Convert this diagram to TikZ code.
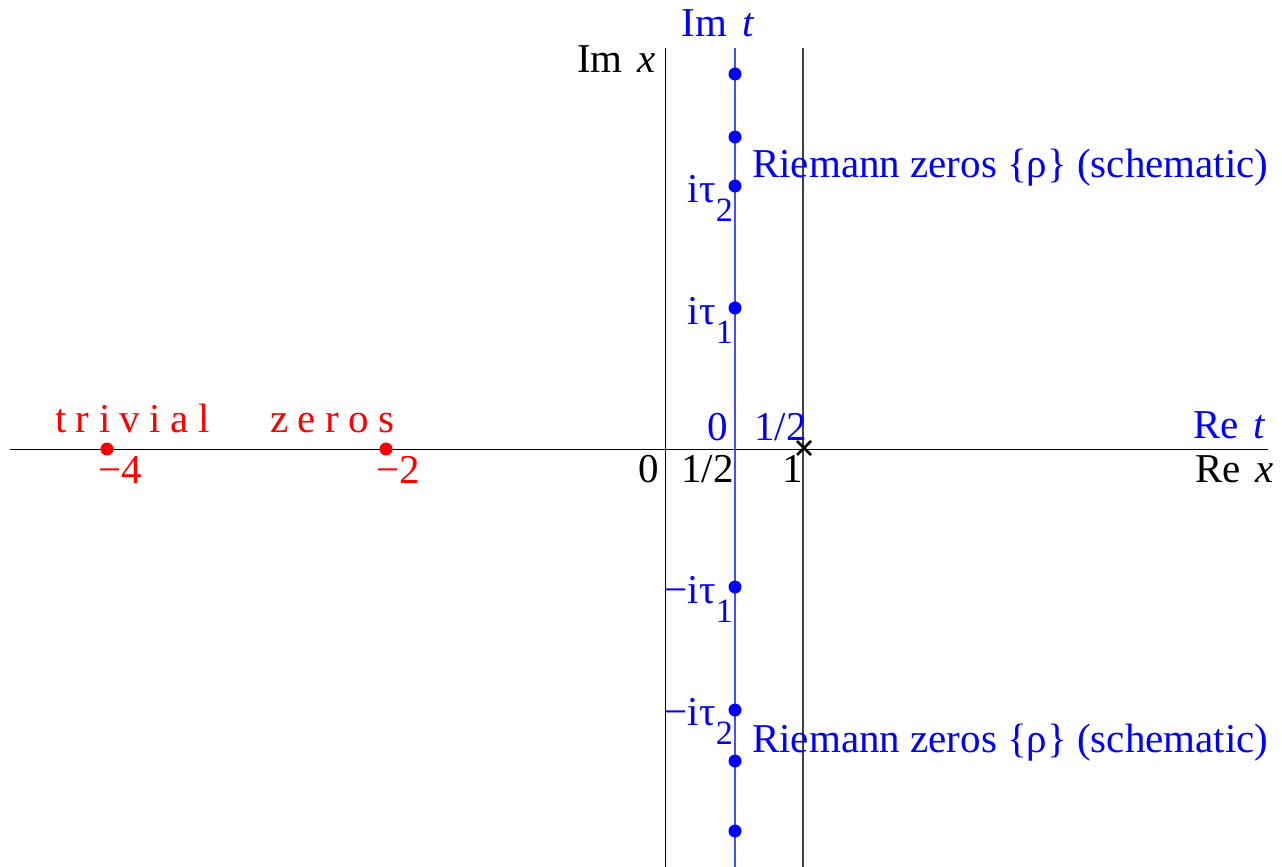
\documentclass[tikz,border=0pt]{standalone}
\usepackage{fontspec}
\setmainfont{Liberation Serif}
\usetikzlibrary{calc}
\newcommand{\mysub}[1]{\raisebox{-19pt}{\fontsize{34}{34}\selectfont #1}}
\begin{document}
\begin{tikzpicture}[x=1pt,y=-1pt,
  lab/.style={inner sep=0pt, font=\fontsize{41}{44}\selectfont},
  bl/.style={lab, text=blue},
  rl/.style={lab, text=red, font=\fontsize{41}{44}\selectfont\addfontfeature{LetterSpace=23}},
  bdot/.style={circle, fill=blue, inner sep=0pt, minimum size=13pt},
  rdot/.style={circle, fill=red, inner sep=0pt, minimum size=13pt},
  axis/.style={black, line width=1pt},
  gline/.style={black!75, line width=1.2pt},
  tline/.style={blue!70, line width=1.2pt},
  cross/.style={black, line width=2.6pt}]
\useasboundingbox (0,0) rectangle (1282,867);
% axes
\coordinate (xl) at (10,449);
\coordinate (xr) at (1268,449);
\coordinate (ix0) at (665,48);
\coordinate (ix1) at (665,867);
\coordinate (one0) at (803,48);
\coordinate (one1) at (803,867);
\coordinate (it0) at (735,48);
\coordinate (it1) at (735,867);
\draw[axis] (xl) -- (xr);
\draw[axis] (ix0) -- (ix1);
\draw[gline] (one0) -- (one1);
\draw[tline] (it0) -- (it1);
% zeros on critical line
\node[bdot] (z1) at (735,74) {};
\node[bdot] (z2) at (735,137) {};
\node[bdot] (z3) at (735,186) {};
\node[bdot] (z4) at (735,308) {};
\node[bdot] (z5) at (735,587) {};
\node[bdot] (z6) at (735,710) {};
\node[bdot] (z7) at (735,761) {};
\node[bdot] (z8) at (735,831) {};
% trivial zeros
\node[rdot] (m4) at (107,449) {};
\node[rdot] (m2) at (386,449) {};
% pole
\coordinate (p) at (804,448);
\draw[cross] ($(p)+(-7,-7)$) -- ($(p)+(7,7)$);
\draw[cross] ($(p)+(-7,7)$) -- ($(p)+(7,-7)$);
% labels
\node[bl, anchor=base] (imt) at (718,37) {Im\hspace{15pt}\textit{t}};
\node[lab, anchor=base east] (imx) at (656,73) {Im\hspace{15pt}\textit{x}};
\node[bl, anchor=base west] (rz1) at (752,177) {Riemann zeros \{ρ\} (schematic)};
\node[bl, anchor=base west] (rz2) at (752,752) {Riemann zeros \{ρ\} (schematic)};
\node[bl, anchor=base east] (t2) at (733,202) {iτ\mysub{2}};
\node[bl, anchor=base east] (t1) at (733,324) {iτ\mysub{1}};
\node[bl, anchor=base east] (mt1) at (733,603) {−iτ\mysub{1}};
\node[bl, anchor=base east] (mt2) at (733,725) {−iτ\mysub{2}};
\node[bl, anchor=base east] (b0) at (728,440) {0};
\node[bl, anchor=base west] (bh) at (754,440) {1/2};
\node[lab, anchor=base east] (k0) at (659,482) {0};
\node[lab, anchor=base east] (kh) at (734,482) {1/2};
\node[lab, anchor=base east] (k1) at (803,482) {1};
\node[bl, anchor=base east] (ret) at (1266,438) {Re\hspace{15pt}\textit{t}};
\node[lab, anchor=base east] (rex) at (1274,482) {Re\hspace{15pt}\textit{x}};
\node[rl, anchor=base west] (triv) at (55,432) {trivial};
\node[rl, anchor=base west] (zer) at (270,432) {zeros};
\node[lab, text=red, anchor=base] (l4) at (120,483) {−4};
\node[lab, text=red, anchor=base] (l2) at (398,483) {−2};
\end{tikzpicture}
\end{document}
